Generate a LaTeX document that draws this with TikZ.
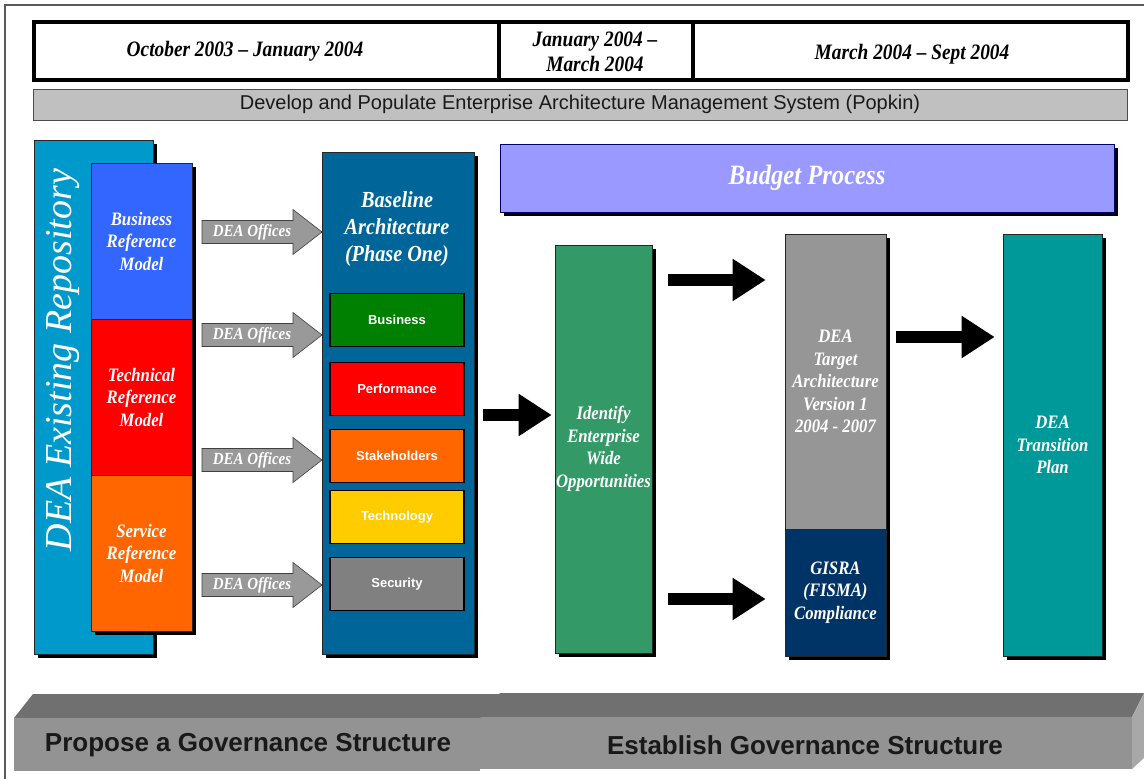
\documentclass[tikz,border=0pt]{standalone}
\usepackage{fontspec}
\setmainfont{Liberation Serif}
\setsansfont{Liberation Sans}
\newfontfamily\bifont{Liberation Serif}[FakeStretch=0.88]
\usetikzlibrary{shadows,arrows.meta,calc}

\definecolor{repoblue}{HTML}{0099CC}
\definecolor{bizblue}{HTML}{3366FF}
\definecolor{svcorange}{HTML}{FF6600}
\definecolor{baseblue}{HTML}{006699}
\definecolor{techyellow}{HTML}{FFCC00}
\definecolor{budgetlilac}{HTML}{9999FF}
\definecolor{identgreen}{HTML}{339966}
\definecolor{targetgray}{HTML}{969696}
\definecolor{gisranavy}{HTML}{003366}
\definecolor{transteal}{HTML}{009999}
\definecolor{popgray}{HTML}{C0C0C0}
\definecolor{offgray}{HTML}{999999}
\definecolor{bartop}{HTML}{707070}
\definecolor{barfront}{HTML}{939393}
\definecolor{barside}{HTML}{A8A8A8}

\tikzset{
  shade/.style={drop shadow={shadow xshift=4pt,shadow yshift=-4pt,fill=black,opacity=1}},
  box/.style={draw=black!85,line width=0.6pt,inner sep=0pt,align=center,text=white,
    font=\bifont\bfseries\itshape\fontsize{19}{22.5}\selectfont},
  subbox/.style={draw=black,line width=1.6pt,minimum width=134pt,minimum height=53pt,
    inner sep=0pt,text=white,font=\sffamily\bfseries\fontsize{13}{15}\selectfont},
  phase/.style={align=center,inner sep=0pt,font=\bifont\bfseries\itshape\fontsize{22}{25}\selectfont},
  offtext/.style={text=white,inner sep=0pt,font=\bifont\bfseries\itshape\fontsize{17}{19}\selectfont},
  govtext/.style={inner sep=0pt,text=black!90,font=\sffamily\bfseries\fontsize{26}{28}\selectfont},
  fatarr/.style={line width=12pt,-{Triangle[length=33pt,width=40pt]}}
}

\begin{document}
\begin{tikzpicture}[x=1pt,y=-1pt]
  \useasboundingbox (0,0) rectangle (1144,779);
  \draw[line width=1.2pt,black!65] (5,790) -- (5,5) -- (1150,5);

  % time line
  \draw[line width=4pt] (34,22) rectangle (1128,80) (499,22) -- (499,80) (693,22) -- (693,80);
  \node[phase] (ph1) at (245,51) {October 2003 – January 2004};
  \node[phase] (ph2) at (595,52) {January 2004 –\\March 2004};
  \node[phase] (ph3) at (912,54) {March 2004 – Sept 2004};
  \node[draw=black!70,fill=popgray,minimum width=1094pt,minimum height=31pt,inner sep=0pt,
    font=\sffamily\fontsize{20}{22}\selectfont,text=black!90] (popkin) at (580,104.5)
    {Develop and Populate Enterprise Architecture Management System (Popkin)};

  % existing repository
  \node[box,shade,fill=repoblue,minimum width=119pt,minimum height=514pt] (repo) at (93.5,397) {};
  \node[rotate=90,text=white,inner sep=0pt,font=\rmfamily\itshape\fontsize{38}{40}\selectfont]
    (repotxt) at (63,360) {DEA Existing Repository};
  \node[box,shade,fill=bizblue,minimum width=101pt,minimum height=156pt] (bizref) at (141.5,241) {Business\\Reference\\Model};
  \node[box,shade,fill=red,minimum width=101pt,minimum height=156pt] (techref) at (141.5,397) {Technical\\Reference\\Model};
  \node[box,shade,fill=svcorange,minimum width=101pt,minimum height=156pt] (svcref) at (141.5,553) {Service\\Reference\\Model};

  % baseline
  \node[box,shade,fill=baseblue,minimum width=152pt,minimum height=502pt] (base) at (398,403) {};
  \node[box,draw=none,font=\bifont\bfseries\itshape\fontsize{23}{27}\selectfont] (basetxt) at (397,229)
    {Baseline\\Architecture\\(Phase One)};
  \node[subbox,fill=green!50!black] (sbiz) at (397,320) {Business};
  \node[subbox,fill=red] (sperf) at (397,389) {Performance};
  \node[subbox,fill=svcorange] (sstake) at (397,456) {Stakeholders};
  \node[subbox,fill=techyellow] (stech) at (397,517) {Technology};
  \node[subbox,fill=gray] (ssec) at (397,584) {Security};

  \foreach \y [count=\i] in {232,335,460,585}{
    \filldraw[fill=offgray,draw=black!75,line width=0.6pt] (202,\y-11.5) -- (293,\y-11.5)
      -- (293,\y-22.5) -- (322,\y) -- (293,\y+22.5) -- (293,\y+11.5) -- (202,\y+11.5) -- cycle;
    \node[offtext] (off\i) at (252,\y) {DEA Offices};
  }

  % budget and targets
  \node[box,shade,fill=budgetlilac,draw=black!60!blue,minimum width=614pt,minimum height=68pt,
    font=\bifont\bfseries\itshape\fontsize{28}{30}\selectfont] (budget) at (807,178) {Budget Process};
  \node[box,shade,fill=identgreen,minimum width=97pt,minimum height=408pt] (ident) at (603.5,449)
    {Identify\\Enterprise\\Wide\\Opportunities};
  \node[box,shade,fill=targetgray,minimum width=101pt,minimum height=295pt] (target) at (835.5,381.5)
    {DEA\\Target\\Architecture\\Version 1\\2004 - 2007};
  \node[box,shade,fill=gisranavy,minimum width=101pt,minimum height=127pt] (gisra) at (835.5,592.5)
    {GISRA\\(FISMA)\\Compliance};
  \node[box,shade,fill=transteal,minimum width=99pt,minimum height=422pt] (trans) at (1052.5,445)
    {DEA\\Transition\\Plan};

  \draw[fatarr] ($(base.east)+(9,12)$) -- ($(ident.west |- base.east)+(-3,12)$);
  \draw[fatarr] ($(ident.east |- 0,280)+(16,0)$) -- ($(target.west |- 0,280)+(-19,0)$);
  \draw[fatarr] ($(ident.east |- 0,599)+(16,0)$) -- ($(gisra.west |- 0,599)+(-19,0)$);
  \draw[fatarr] ($(target.east |- 0,337)+(10,0)$) -- ($(trans.west |- 0,337)+(-8,0)$);

  % governance bars
  \fill[bartop] (500,693) -- (1144,693) -- (1132,717) -- (480,717) -- cycle;
  \fill[barfront] (480,717) rectangle (1132,769);
  \fill[barside] (1132,717) -- (1144,693) -- (1144,758) -- (1132,769) -- cycle;
  \fill[bartop] (33,694) -- (500,694) -- (480,718) -- (14,718) -- cycle;
  \fill[barfront] (14,718) rectangle (480,771);
  \node[govtext] (propose) at (248,745) {Propose a Governance Structure};
  \node[govtext] (establish) at (805,745) {Establish Governance Structure};
\end{tikzpicture}
\end{document}
